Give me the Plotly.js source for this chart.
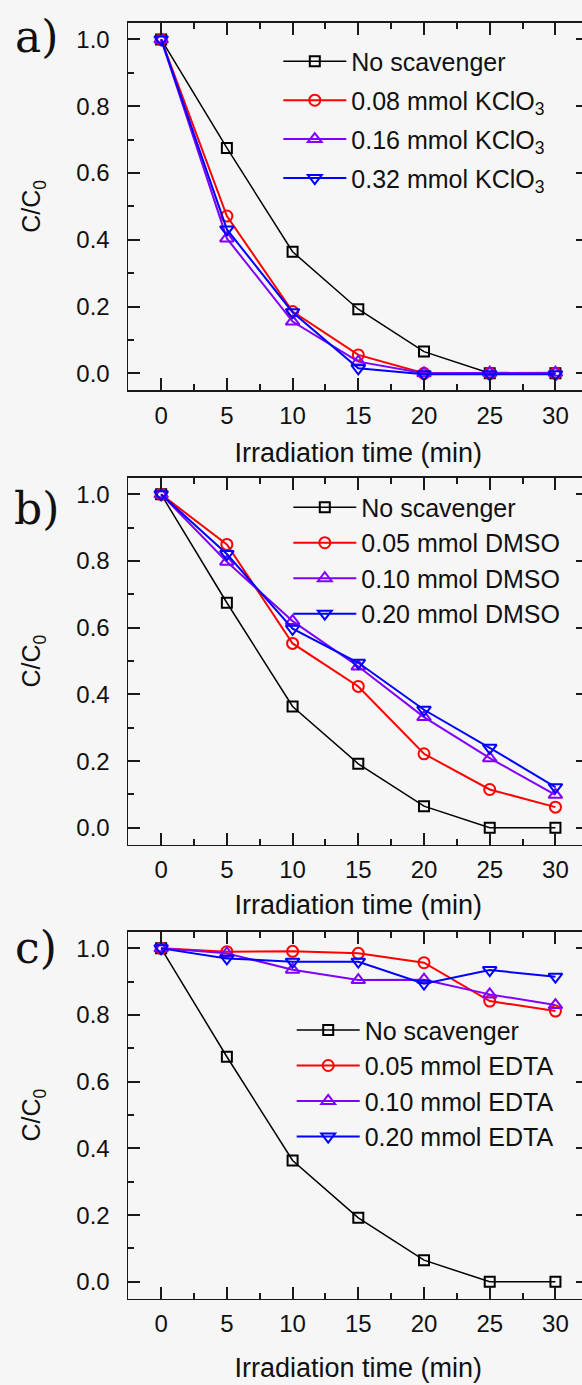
<!DOCTYPE html>
<html><head><meta charset="utf-8">
<script src="https://cdn.plot.ly/plotly-3.0.1.min.js"></script>
<style>html,body{margin:0;padding:0;overflow:hidden;background:#f6f6f6}</style>
</head><body><div id="chart"></div>
<script>
// ---- data ----
const time = [0, 5, 10, 15, 20, 25, 30];
const noScavenger = [1.0, 0.675, 0.364, 0.192, 0.065, 0.0, 0.0];

const kclo3_008 = [1.0, 0.471, 0.185, 0.055, 0.0, 0.0, 0.0];
const kclo3_016 = [1.0, 0.404, 0.155, 0.035, 0.0, 0.002, 0.002];
const kclo3_032 = [1.0, 0.431, 0.183, 0.015, -0.003, -0.003, -0.003];

const dmso_005 = [1.0, 0.85, 0.553, 0.424, 0.222, 0.115, 0.062];
const dmso_010 = [1.0, 0.798, 0.62, 0.484, 0.332, 0.209, 0.099];
const dmso_020 = [1.0, 0.821, 0.597, 0.495, 0.354, 0.24, 0.122];

const edta_005 = [1.0, 0.99, 0.991, 0.985, 0.957, 0.842, 0.812];
const edta_010 = [1.0, 0.985, 0.936, 0.905, 0.906, 0.862, 0.83];
const edta_020 = [1.0, 0.97, 0.96, 0.96, 0.894, 0.935, 0.915];

const namesA = ['No scavenger', '0.08 mmol KClO<sub>3</sub>', '0.16 mmol KClO<sub>3</sub>', '0.32 mmol KClO<sub>3</sub>'];
const namesB = ['No scavenger', '0.05 mmol DMSO', '0.10 mmol DMSO', '0.20 mmol DMSO'];
const namesC = ['No scavenger', '0.05 mmol EDTA', '0.10 mmol EDTA', '0.20 mmol EDTA'];
const panelLabels = ['a)', 'b)', 'c)'];
const xTitle = 'Irradiation time (min)';
const yTitle = 'C/C<sub>0</sub>';

// ---- styles ----
const W = 593, H = 1385;
const FONT = 'Liberation Sans, Arial, sans-serif';
const TICKC = '#1a1a1a';
const styles = [
  {color: '#000000', symbol: 'square-open', size: 10, lw: 1.5},
  {color: '#ff0000', symbol: 'circle-open', size: 11, lw: 2},
  {color: '#8000ff', symbol: 'triangle-up-open', size: 12, lw: 2},
  {color: '#0000ff', symbol: 'triangle-down-open', size: 12, lw: 2}
];

const panels = [
  {series: [noScavenger, kclo3_008, kclo3_016, kclo3_032], names: namesA},
  {series: [noScavenger, dmso_005, dmso_010, dmso_020], names: namesB},
  {series: [noScavenger, edta_005, edta_010, edta_020], names: namesC}
];

const traces = [];
panels.forEach((p, pi) => {
  const sfx = pi === 0 ? '' : String(pi + 1);
  p.series.forEach((ys, si) => {
    const s = styles[si];
    traces.push({
      x: time, y: ys, name: p.names[si], type: 'scatter', mode: 'lines+markers',
      xaxis: 'x' + sfx, yaxis: 'y' + sfx,
      legend: 'legend' + sfx, legendgroup: 'g' + pi + '_' + si,
      line: {color: s.color, width: s.lw},
      marker: {symbol: s.symbol, size: s.size, color: s.color, line: {color: s.color, width: 2}},
      cliponaxis: false
    });
  });
});

// plot-area pixel boxes [top, bottom]
const boxes = [[22.7, 390], [477.7, 844.5], [931.7, 1298.5]];
const xdom = [128.3 / W, 588.3 / W];
const xTitleStandoff = [15, 13, 22];

const LEG_FONT = 25;
const itemH = LEG_FONT * 1.3 + 3;

const layout = {
  width: W, height: H,
  margin: {l: 0, r: 0, t: 0, b: 0},
  paper_bgcolor: '#f6f6f6', plot_bgcolor: '#f6f6f6',
  font: {family: FONT, color: '#111', size: 24},
  annotations: [],
  showlegend: true
};

// [left px of legend, first row centre px, group gap]
const legPos = [[278.3, 61.3, 3.4], [288.3, 507.2, 0], [291.7, 1030, 0]];

boxes.forEach((b, i) => {
  const sfx = i === 0 ? '' : String(i + 1);
  const ydom = [1 - b[1] / H, 1 - b[0] / H];
  layout['xaxis' + sfx] = {
    domain: xdom, anchor: 'y' + sfx, side: 'bottom', range: [-2.5, 32.5], tick0: 0, dtick: 5,
    ticks: 'inside', ticklen: 12, tickwidth: 2, tickcolor: TICKC,
    showline: true, linecolor: TICKC, linewidth: 1.8, mirror: 'ticks',
    showgrid: false, zeroline: false, fixedrange: true,
    minor: {ticks: 'inside', ticklen: 6, tickwidth: 2, tickcolor: TICKC, tick0: 0, dtick: 2.5, showgrid: false},
    tickfont: {size: 24, family: FONT, color: '#111'},
    ticklabelstandoff: 3,
    title: {text: xTitle, font: {size: 27, family: FONT, color: '#111'}, standoff: xTitleStandoff[i]}
  };
  layout['yaxis' + sfx] = {
    domain: ydom, anchor: 'x' + sfx, range: [-0.05, 1.05], tick0: 0, dtick: 0.2, tickformat: '.1f',
    ticks: 'inside', ticklen: 12, tickwidth: 2, tickcolor: TICKC,
    showline: true, linecolor: TICKC, linewidth: 1.8, mirror: 'ticks',
    showgrid: false, zeroline: false, fixedrange: true,
    minor: {ticks: 'inside', ticklen: 6, tickwidth: 2, tickcolor: TICKC, tick0: 0, dtick: 0.1, showgrid: false},
    tickfont: {size: 24, family: FONT, color: '#111'},
    ticklabelstandoff: 12,
    title: {text: yTitle, font: {size: 25, family: FONT, color: '#111'}, standoff: 28}
  };
  const lp = legPos[i];
  layout['legend' + sfx] = {
    x: lp[0] / W, y: 1 - (lp[1] - 5 - itemH / 2) / H, xanchor: 'left', yanchor: 'top',
    bgcolor: 'rgba(0,0,0,0)', borderwidth: 0, itemwidth: 63,
    tracegroupgap: lp[2], traceorder: 'grouped',
    font: {size: LEG_FONT, family: FONT, color: '#111'}
  };
  layout.annotations.push({
    xref: 'paper', yref: 'paper', x: 36 / W, y: 1 - [36, 508, 948][i] / H,
    xanchor: 'center', yanchor: 'middle', showarrow: false,
    text: panelLabels[i], font: {family: 'DejaVu Serif, serif', size: 44, color: '#111'}
  });
});

Plotly.newPlot('chart', traces, layout, {staticPlot: true});
</script></body></html>
